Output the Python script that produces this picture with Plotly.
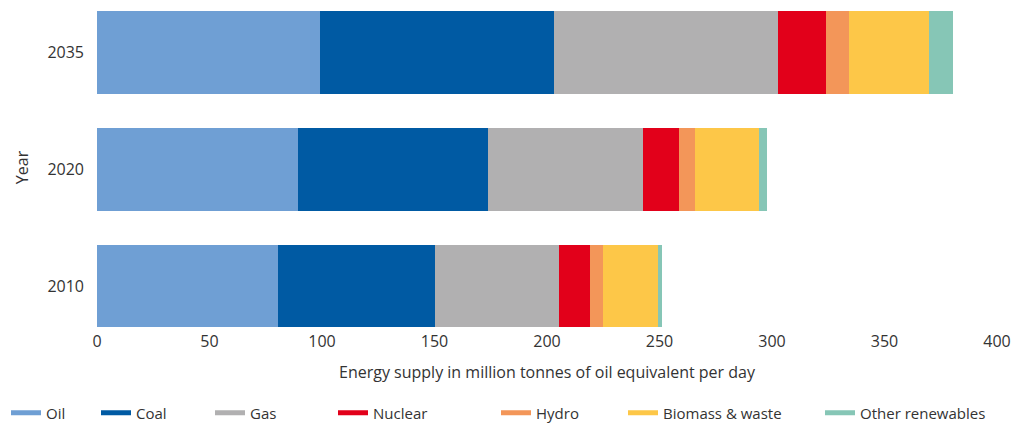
import plotly.graph_objects as go

years = ["2010", "2020", "2035"]
fuels = ["Oil", "Coal", "Gas", "Nuclear", "Hydro", "Biomass & waste", "Other renewables"]
oil = [80.5, 89.4, 99.0]
coal = [69.6, 84.2, 103.9]
gas = [55.1, 69.2, 99.9]
nuclear = [13.7, 15.9, 21.3]
hydro = [6.2, 7.2, 10.2]
biomass = [24.3, 28.4, 35.4]
other = [1.7, 3.4, 10.8]
x_ticks = [0, 50, 100, 150, 200, 250, 300, 350, 400]

series = [oil, coal, gas, nuclear, hydro, biomass, other]
colors = ["#6f9fd4", "#005aa3", "#b1b0b1", "#e2001a", "#f39659", "#fdc748", "#86c6b6"]
legend_x = [6, 96, 210, 333, 496, 623, 820]

FONT = "Open Sans"
fig = go.Figure()
for i, (name, vals, col) in enumerate(zip(fuels, series, colors)):
    lg = "legend" if i == 0 else f"legend{i+1}"
    fig.add_trace(go.Bar(y=years, x=vals, orientation="h", name=name,
                         marker=dict(color=col, line=dict(width=0)),
                         showlegend=False, width=0.71))
    fig.add_trace(go.Scatter(x=[None], y=[None], mode="lines", name=name,
                             line=dict(color=col, width=5), legend=lg,
                             showlegend=True))

layout_legends = {}
for i, lx in enumerate(legend_x):
    key = "legend" if i == 0 else f"legend{i+1}"
    layout_legends[key] = dict(xref="container", yref="container",
                               x=lx / 1023, y=(425 - 413) / 425,
                               xanchor="left", yanchor="middle",
                               orientation="h", bgcolor="rgba(0,0,0,0)",
                               font=dict(family=FONT, size=15, color="#333333"),
                               itemwidth=30, tracegroupgap=0)

fig.update_layout(
    barmode="stack",
    width=1023, height=425,
    margin=dict(l=97, r=26, t=5, b=95),
    plot_bgcolor="white", paper_bgcolor="white",
    font=dict(family=FONT, size=16, color="#333333"),
    xaxis=dict(range=[0, 400], tickvals=x_ticks, showgrid=False, zeroline=False,
               showline=False, ticks="",
               title=dict(text="Energy supply in million tonnes of oil equivalent per day",
                          font=dict(size=16), standoff=15),
               tickfont=dict(size=16)),
    yaxis=dict(type="category", range=[-0.377, 2.407], showgrid=False, zeroline=False,
               showline=False, ticks="", ticklabelstandoff=12,
               title=dict(text="Year", font=dict(size=16), standoff=14),
               tickfont=dict(size=16)),
    **layout_legends,
)

fig.write_html("out.html")
